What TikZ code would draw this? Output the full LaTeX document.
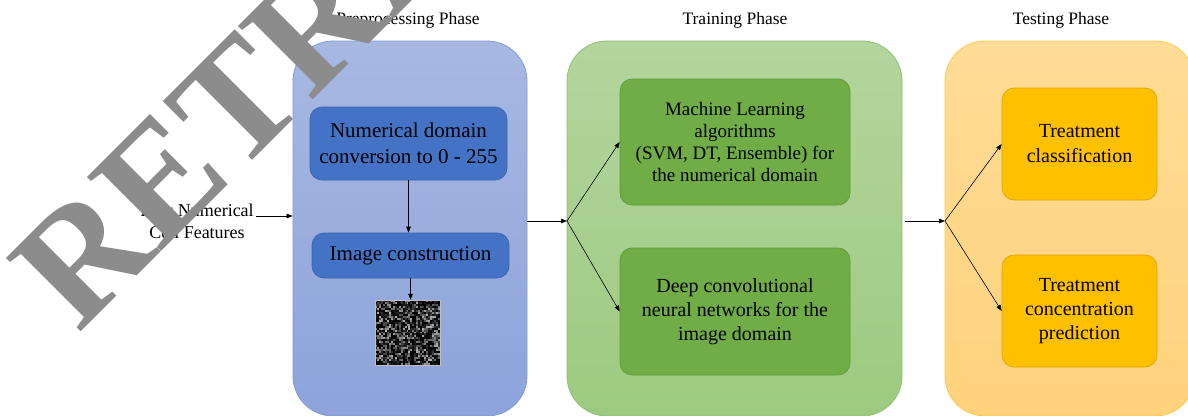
\documentclass[tikz,border=0pt]{standalone}
\usepackage{fontspec}
\setmainfont{Liberation Serif}
\usetikzlibrary{arrows.meta}
\definecolor{prepTop}{HTML}{A7B8E1}
\definecolor{prepBot}{HTML}{8DA3DA}
\definecolor{prepLine}{HTML}{7E9DDB}
\definecolor{prepBox}{HTML}{4472C4}
\definecolor{prepBoxLine}{HTML}{3A64B0}
\definecolor{trainTop}{HTML}{B3D59E}
\definecolor{trainBot}{HTML}{9DCA80}
\definecolor{trainLine}{HTML}{8DC26C}
\definecolor{trainBox}{HTML}{70AD47}
\definecolor{trainBoxLine}{HTML}{5F9A3B}
\definecolor{testTop}{HTML}{FFDC97}
\definecolor{testBot}{HTML}{FFD27C}
\definecolor{testLine}{HTML}{FFC94A}
\definecolor{testBox}{HTML}{FFC000}
\definecolor{testBoxLine}{HTML}{DDA600}
\tikzset{
	phase/.style={draw, rounded corners=40pt, line width=0.8pt, inner sep=0},
	stepbox/.style={draw, rounded corners=12pt, line width=0.7pt, align=center, inner sep=0},
	title/.style={font=\fontsize{17.5}{20}\selectfont},
	arr/.style={-{Triangle[length=6pt,width=4.5pt]}, line width=0.6pt},
}
\begin{document}
\begin{tikzpicture}[x=1pt, y=-1pt]
			%%%%% START %%%%%
			\useasboundingbox (0, 0) rectangle (1188, 415);
			\clip (0, 0) rectangle (1188, 415);
			
			% phase frames
			\node[phase, draw=prepLine, top color=prepTop, bottom color=prepBot, minimum width=234, minimum height=375] (prep) at (410, 228.5) {};
			\node[phase, draw=trainLine, top color=trainTop, bottom color=trainBot, minimum width=335, minimum height=375] (train) at (734.5, 228.5) {};
			\node[phase, draw=testLine, top color=testTop, bottom color=testBot, minimum width=250, minimum height=375] (test) at (1070, 228.5) {};
			
			\node[title] (prept) at (408, 20) {Preprocessing Phase};
			\node[title] (traint) at (735, 20) {Training Phase};
			\node[title] (testt) at (1061, 20) {Testing Phase};
			
			% preprocessing
			\node[stepbox, fill=prepBox, draw=prepBoxLine, minimum width=197, minimum height=73, font=\fontsize{21}{26}\selectfont] (num) at (408.5, 143.5) {Numerical domain\\conversion to 0 - 255};
			\node[stepbox, fill=prepBox, draw=prepBoxLine, minimum width=197, minimum height=45, font=\fontsize{21}{26}\selectfont] (imgc) at (410.5, 255.5) {Image construction};
			\node[fill=black, minimum size=65, inner sep=0] (pic) at (407.5, 332.5) {};
			\pgfmathsetseed{17}
			\foreach \i in {0,...,32}
				\foreach \j in {0,...,32} {
					\pgfmathsetmacro\g{rnd^2.5*70}
					\fill[white!\g!black] (375+\i*1.97, 300+\j*1.97) rectangle ++(1.97, 1.97);
				}
			\draw[white!75!black, line width=0.6pt] (pic.north west) rectangle (pic.south east);
			
			% training
			\node[stepbox, fill=trainBox, draw=trainBoxLine, minimum width=230, minimum height=126, font=\fontsize{19}{22}\selectfont] (ml) at (735, 142) {Machine Learning\\algorithms\\(SVM, DT, Ensemble) for\\the numerical domain};
			\node[stepbox, fill=trainBox, draw=trainBoxLine, minimum width=230, minimum height=127, font=\fontsize{20}{24}\selectfont] (cnn) at (735, 311.5) {Deep convolutional\\neural networks for the\\image domain};
			
			% testing
			\node[stepbox, fill=testBox, draw=testBoxLine, minimum width=155, minimum height=112, font=\fontsize{20}{25}\selectfont] (cls) at (1079.5, 144) {Treatment\\classification};
			\node[stepbox, fill=testBox, draw=testBoxLine, minimum width=155, minimum height=112, font=\fontsize{20}{24}\selectfont] (conc) at (1079.5, 311) {Treatment\\concentration\\prediction};
			
			% input
			\node[align=center, font=\fontsize{18}{22}\selectfont] (raw) at (197, 221) {Raw Numerical\\Cell Features};
			\coordinate (in) at (256, 216);
			\coordinate (fork1) at (567, 221);
			\coordinate (fork2) at (945, 221);
			
			% arrows
			\draw[arr] (in) -- (prep.west |- in);
			\draw[arr] (num.south) -- (num.south |- imgc.north);
			\draw[arr] (imgc.south) -- (imgc.south |- pic.north);
			\draw[arr] (prep.east |- fork1) -- (fork1);
			\draw[arr] (fork1) -- (ml.west);
			\draw[arr] (fork1) -- (cnn.west);
			\draw[arr] (train.east |- fork2) ++(3, 0) -- (fork2);
			\draw[arr] (fork2) -- (cls.west);
			\draw[arr] (fork2) -- (conc.west);
			
			% watermark
			\node[rotate=45, anchor=base west, inner sep=0, text=black!45, font=\fontsize{160}{160}\selectfont\bfseries] (stamp) at (78, 335) {RETRACTED};
			%%%%% END %%%%%
		\end{tikzpicture}
\end{document}
